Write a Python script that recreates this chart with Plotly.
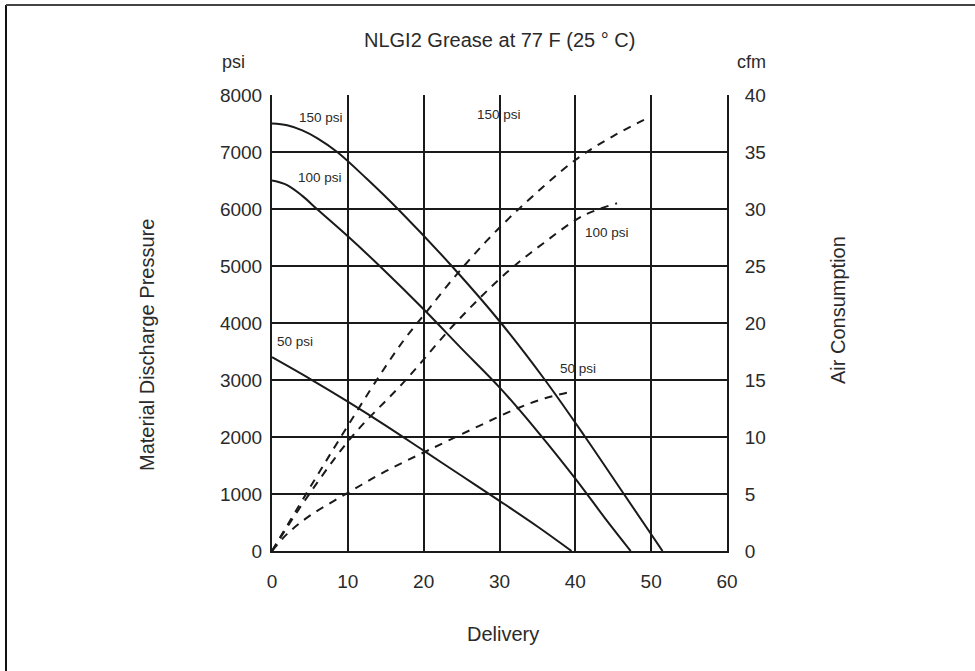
import plotly.graph_objects as go

# ---- data ----
# Material discharge pressure (psi) vs delivery, solid curves, left axis
p150_x = [0, 2, 4, 6, 8.6, 12.5, 16.6, 23.7, 30.2, 36, 41.3, 46.4, 51.5]
p150_y = [7500, 7470, 7380, 7240, 7000, 6530, 6000, 5000, 4000, 3000, 2000, 1000, 0]

p100_x = [0, 2, 4, 6, 10, 14.2, 20, 25, 30, 35, 40, 44, 47.3]
p100_y = [6500, 6420, 6230, 5990, 5520, 5000, 4240, 3550, 2870, 2100, 1270, 560, 0]

p50_x = [0, 5, 10, 15, 20, 25, 30, 35, 39.5]
p50_y = [3400, 3020, 2620, 2200, 1760, 1320, 880, 430, 0]

# Air consumption (cfm) vs delivery, dashed curves, right axis
a150_x = [0, 4.4, 8.8, 14.2, 17.5, 20.4, 23.9, 28.3, 32.7, 40, 45, 49.9]
a150_y = [0, 4.9, 9.7, 15.4, 18.6, 21, 23.9, 27.2, 30.1, 34.3, 36.4, 38.1]

a100_x = [0, 4.4, 10.5, 17.5, 24.2, 30.9, 35.8, 41, 45.5]
a100_y = [0, 4.5, 10, 14.9, 20, 24.4, 27, 29.4, 30.5]

a50_x = [0, 2, 5, 10, 15, 20.8, 27.4, 32.3, 36, 39.7]
a50_y = [0, 1.5, 3.1, 5.1, 7.0, 8.9, 11.0, 12.5, 13.4, 14]

x_ticks = [0, 10, 20, 30, 40, 50, 60]
psi_ticks = [0, 1000, 2000, 3000, 4000, 5000, 6000, 7000, 8000]
cfm_ticks = [0, 5, 10, 15, 20, 25, 30, 35, 40]

# curve labels: (text, x, y on psi axis)
labels_left = [("150 psi", 6.5, 7600), ("100 psi", 6.3, 6550), ("50 psi", 3.0, 3670)]
labels_right = [("150 psi", 29.9, 7650), ("100 psi", 44.2, 5580), ("50 psi", 40.4, 3210)]

INK = "#1a1a1a"
TXT = "#2a2a2a"
FONT = "Liberation Sans"

fig = go.Figure()
line_solid = dict(color=INK, width=2, shape="spline", smoothing=1.0)
line_dash = dict(color=INK, width=2, shape="spline", smoothing=1.0, dash="8px,7px")

for xs, ys in [(p150_x, p150_y), (p100_x, p100_y), (p50_x, p50_y)]:
    fig.add_trace(go.Scatter(x=xs, y=ys, mode="lines", line=line_solid,
                             yaxis="y", showlegend=False, hoverinfo="skip"))
for xs, ys in [(a150_x, a150_y), (a100_x, a100_y), (a50_x, a50_y)]:
    fig.add_trace(go.Scatter(x=xs, y=ys, mode="lines", line=line_dash,
                             yaxis="y2", showlegend=False, hoverinfo="skip"))

tickfont = dict(family=FONT, size=19, color=TXT)

fig.update_layout(
    width=975, height=671,
    margin=dict(l=272, r=248, t=95, b=120),
    paper_bgcolor="white", plot_bgcolor="white",
    font=dict(family=FONT, color=TXT),
    xaxis=dict(range=[0, 60], tickmode="array", tickvals=x_ticks,
               showgrid=True, gridcolor=INK, gridwidth=2, zeroline=False,
               showline=True, linecolor=INK, linewidth=2, mirror=False,
               ticks="", tickfont=tickfont, ticklabelstandoff=12),
    yaxis=dict(range=[0, 8000], tickmode="array", tickvals=psi_ticks,
               showgrid=True, gridcolor=INK, gridwidth=2, zeroline=False,
               showline=True, linecolor=INK, linewidth=2, ticks="",
               tickfont=tickfont, ticklabelstandoff=4),
    yaxis2=dict(range=[0, 40], tickmode="array", tickvals=cfm_ticks,
                overlaying="y", side="right", showgrid=False, zeroline=False,
                showline=True, linecolor=INK, linewidth=2, ticks="",
                tickfont=tickfont, ticklabelstandoff=12),
)

ann = []
ann.append(dict(text="NLGI2 Grease at 77 F (25 ° C)", x=0.501, y=1.1206, xref="paper", yref="paper",
                showarrow=False, xanchor="center", yanchor="middle", font=dict(size=20, family=FONT, color=TXT)))
ann.append(dict(text="psi", x=-0.084, y=1.0723, xref="paper", yref="paper",
                showarrow=False, xanchor="center", yanchor="middle", font=dict(size=18, family=FONT, color=TXT)))
ann.append(dict(text="cfm", x=1.0549, y=1.0723, xref="paper", yref="paper",
                showarrow=False, xanchor="center", yanchor="middle", font=dict(size=18, family=FONT, color=TXT)))
ann.append(dict(text="Material Discharge Pressure", x=-0.2747, y=0.4518, xref="paper", yref="paper",
                showarrow=False, textangle=-90, xanchor="center", yanchor="middle",
                font=dict(size=20, family=FONT, color=TXT)))
ann.append(dict(text="Air Consumption", x=1.244, y=0.5285, xref="paper", yref="paper",
                showarrow=False, textangle=-90, xanchor="center", yanchor="middle",
                font=dict(size=20, family=FONT, color=TXT)))
ann.append(dict(text="Delivery", x=0.5077, y=-0.182, xref="paper", yref="paper",
                showarrow=False, xanchor="center", yanchor="middle", font=dict(size=20, family=FONT, color=TXT)))
for t, x, y in labels_left + labels_right:
    ann.append(dict(text=t, x=x, y=y, xref="x", yref="y", showarrow=False,
                    xanchor="center", yanchor="middle", font=dict(size=13.5, family=FONT, color=TXT)))
fig.update_layout(annotations=ann)

# outer frame (left and top edges of the scanned page)
fig.add_shape(type="line", xref="paper", yref="paper", x0=-0.5846, x1=-0.5846, y0=1.1974, y1=-0.27,
              line=dict(color="#111111", width=2))
fig.add_shape(type="line", xref="paper", yref="paper", x0=-0.5846, x1=1.56, y0=1.1974, y1=1.1974,
              line=dict(color="#444444", width=2))

fig.write_html("out.html", config={"displayModeBar": False},
               post_script="document.body.style.margin='0';document.body.style.overflow='hidden';")
